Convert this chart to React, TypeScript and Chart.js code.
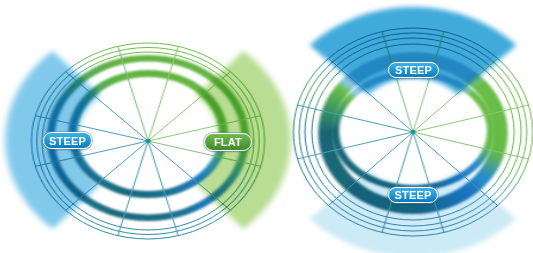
import React, { useEffect, useRef } from "react";
import { Chart, registerables } from "chart.js";
Chart.register(...registerables);

// ---------------- data ----------------
const spokes = ["1", "2", "3", "4", "5", "6", "7", "8", "9", "10", "11", "12"];
const leftRings = [89, 93.5, 98];
const rightRings = [88, 94, 99, 104];
const leftBandInner = [57, 64];
const leftBandOuter = [76.5, 83];
const rightBandInner = [54, 60];
const rightBandOuter = [68, 81];
const leftSectorSpans = [96, 84, 96, 84]; // FLAT side, gap, STEEP side, gap
const rightSectorSpans = [92, 88, 92, 88]; // top STEEP, gap, bottom STEEP, gap
const leftSectorRadii = [60, 120];
const rightSectorRadii = [54, 125];
const pillLabels = ["STEEP", "FLAT", "STEEP", "STEEP"];

// ---------------- styles ----------------
type Stops = [number, string][];
const leftBandStops: Stops = [
  [0, "#62b442"], [95, "#66bb44"], [118, "#3b9bc8"], [135, "#1d7fcf"], [165, "#1b6f8c"],
  [200, "#1a6a7c"], [240, "#1b7d9c"], [270, "#1788b5"], [300, "#2190a8"], [322, "#58ad55"],
  [340, "#62b442"], [360, "#62b442"],
];
const leftRingStops: Stops = [
  [0, "#6cbb4c"], [100, "#6cbb4c"], [125, "#2f8fc0"], [150, "#2b8aa8"], [200, "#2a8a9c"],
  [270, "#2a95b5"], [315, "#3a9ab0"], [330, "#6cbb4c"], [360, "#6cbb4c"],
];
const spokeStops: Stops = [
  [0, "#8ec874"], [100, "#8ec874"], [130, "#4b9fb4"], [330, "#4b9fb4"], [350, "#8ec874"], [360, "#8ec874"],
];
const rightBandStops: Stops = [
  [0, "#8ccbe6"], [40, "#8ccbe6"], [50, "#6abd48"], [105, "#66bb46"], [125, "#2a8ec8"],
  [145, "#1e7cc8"], [175, "#1a6d8a"], [230, "#186978"], [270, "#176676"], [290, "#3e9a62"],
  [305, "#6abd48"], [312, "#8ccbe6"], [360, "#8ccbe6"],
];
const rightRingStops: Stops = [
  [0, "#2f8fb0"], [40, "#2f8fb0"], [55, "#6cbb4c"], [110, "#6cbb4c"], [135, "#3a95c0"],
  [180, "#3a8fb0"], [270, "#2f8090"], [300, "#58a870"], [310, "#2f8fb0"], [360, "#2f8fb0"],
];
const leftSectorColors = ["rgba(140,200,80,0.62)", "rgba(0,0,0,0)", "rgba(70,175,225,0.68)", "rgba(0,0,0,0)"];
const rightSectorColors = ["rgba(30,155,212,0.85)", "rgba(0,0,0,0)", "rgba(90,185,228,0.3)", "rgba(0,0,0,0)"];

function conic(ctx: CanvasRenderingContext2D, x: number, y: number, stops: Stops) {
  const g = (ctx as any).createConicGradient(-Math.PI / 2, x, y);
  stops.forEach(([d, c]) => g.addColorStop(d / 360, c));
  return g;
}

const base = (pad: number) => ({
  animation: false,
  responsive: false,
  devicePixelRatio: 1,
  events: [],
  layout: { padding: pad },
  plugins: { legend: { display: false }, tooltip: { enabled: false } },
});

function radarConfig(rings: number[], ringStops: Stops, pad: number) {
  const R = rings[rings.length - 1];
  return {
    type: "radar",
    data: {
      labels: spokes,
      datasets: [
        {
          data: spokes.map(() => 0),
          borderWidth: 0,
          fill: false,
          pointRadius: (c: any) => (c.dataIndex === 0 ? 2.2 : 0),
          pointBackgroundColor: "#1a9a8c",
          pointBorderWidth: 0,
        },
      ],
    },
    options: {
      ...base(pad),
      scales: {
        r: {
          min: 0,
          max: R,
          startAngle: 15,
          ticks: { display: false },
          pointLabels: { display: false },
          afterBuildTicks: (s: any) => {
            s.ticks = [0, ...rings].map((v) => ({ value: v }));
          },
          grid: {
            circular: true,
            lineWidth: 1,
            color: (c: any) => {
              const s = c.chart.scales.r;
              return conic(c.chart.ctx, s.xCenter, s.yCenter, ringStops);
            },
          },
          angleLines: {
            display: true,
            lineWidth: 1,
            color: (c: any) => {
              const s = c.chart.scales.r;
              return conic(c.chart.ctx, s.xCenter, s.yCenter, spokeStops);
            },
          },
        },
      },
    },
  };
}

function bandConfig(radii: number[], stops: Stops, pad: number) {
  return {
    type: "doughnut",
    data: {
      labels: ["band"],
      datasets: [
        {
          data: [1],
          borderWidth: 0,
          hoverBorderWidth: 0,
          offset: 0,
          hoverOffset: 0,
          backgroundColor: (c: any) => {
            const ca = c.chart.chartArea;
            if (!ca) return "rgba(0,0,0,0)";
            return conic(c.chart.ctx, (ca.left + ca.right) / 2, (ca.top + ca.bottom) / 2, stops);
          },
        },
      ],
    },
    options: { ...base(pad), cutout: radii[0] },
  };
}

function sectorConfig(spans: number[], colors: string[], radii: number[], rotation: number, pad: number) {
  return {
    type: "doughnut",
    data: {
      labels: spans.map((_, i) => "s" + i),
      datasets: [
        {
          data: spans,
          backgroundColor: colors,
          borderWidth: 0,
          hoverBorderWidth: 0,
          offset: 0,
          hoverOffset: 0,
        },
      ],
    },
    options: { ...base(pad), cutout: radii[0], rotation },
  };
}

type LayerProps = {
  cx: number;
  cy: number;
  r: number;
  sx: number;
  blur?: number;
  blend?: string;
  make: (pad: number) => any;
};

function Layer({ cx, cy, r, sx, blur, blend, make }: LayerProps) {
  const ref = useRef<HTMLCanvasElement>(null);
  const pad = 6;
  const size = Math.round(2 * (r + pad));
  useEffect(() => {
    const chart = new Chart(ref.current as HTMLCanvasElement, make(pad));
    return () => chart.destroy();
  }, []);
  return (
    <canvas
      ref={ref}
      width={size}
      height={size}
      style={{
        position: "absolute",
        left: cx - size / 2,
        top: cy - size / 2,
        width: size,
        height: size,
        transform: `scaleX(${sx})`,
        transformOrigin: "center center",
        filter: blur ? `blur(${blur}px)` : undefined,
        mixBlendMode: (blend as any) || undefined,
      }}
    />
  );
}

function Pill({ x, y, w, h, text, kind }: { x: number; y: number; w: number; h: number; text: string; kind: "blue" | "green" }) {
  const bg =
    kind === "blue"
      ? "linear-gradient(#3cb2e8, #0a7cc0)"
      : "linear-gradient(#72bb50, #3f8b2a)";
  return (
    <div
      style={{
        position: "absolute",
        left: x - w / 2,
        top: y - h / 2,
        width: w,
        height: h,
        boxSizing: "border-box",
        borderRadius: h / 2,
        background: bg,
        border: "1.5px solid #ffffff",
        boxShadow: "0 0 0 1px rgba(110,130,140,0.55), 0 1px 2px rgba(0,0,0,0.25)",
        color: "#ffffff",
        font: 'bold 11px "Liberation Sans", Arial, sans-serif',
        display: "flex",
        alignItems: "center",
        justifyContent: "center",
        letterSpacing: 0.2,
      }}
    >
      {text}
    </div>
  );
}

export default function App() {
  return (
    <div
      style={{
        position: "fixed",
        left: 0,
        top: 0,
        width: 533,
        height: 253,
        overflow: "hidden",
        background: "#ffffff",
      }}
    >
      {/* left wheel */}
      <Layer cx={148} cy={138} r={leftBandOuter[1]} sx={1.22} blur={1.3} make={(p) => bandConfig(leftBandOuter, leftBandStops, p)} />
      <Layer cx={148} cy={134} r={leftBandInner[1]} sx={1.245} blur={1.3} make={(p) => bandConfig(leftBandInner, leftBandStops, p)} />
      <Layer cx={148} cy={141} r={leftRings[leftRings.length - 1]} sx={1.19} make={(p) => radarConfig(leftRings, leftRingStops, p)} />
      <Layer cx={148} cy={140} r={leftSectorRadii[1]} sx={1.19} blur={2.5} blend="multiply" make={(p) => sectorConfig(leftSectorSpans, leftSectorColors, leftSectorRadii, 42, p)} />

      {/* right wheel */}
      <Layer cx={413} cy={133} r={rightBandOuter[1]} sx={1.17} blur={1.3} make={(p) => bandConfig(rightBandOuter, rightBandStops, p)} />
      <Layer cx={413} cy={131} r={rightBandInner[1]} sx={1.37} blur={1.3} make={(p) => bandConfig(rightBandInner, rightBandStops, p)} />
      <Layer cx={413} cy={132} r={rightRings[rightRings.length - 1]} sx={1.15} make={(p) => radarConfig(rightRings, rightRingStops, p)} />
      <Layer cx={413} cy={132} r={rightSectorRadii[1]} sx={1.15} blur={2.5} blend="multiply" make={(p) => sectorConfig(rightSectorSpans, rightSectorColors, rightSectorRadii, -46, p)} />

      <Pill x={67.5} y={140.5} w={49} h={17} text={pillLabels[0]} kind="blue" />
      <Pill x={228} y={142} w={48} h={18} text={pillLabels[1]} kind="green" />
      <Pill x={413.5} y={69.5} w={51} h={16} text={pillLabels[2]} kind="blue" />
      <Pill x={413} y={195} w={50} h={16} text={pillLabels[3]} kind="blue" />
    </div>
  );
}
